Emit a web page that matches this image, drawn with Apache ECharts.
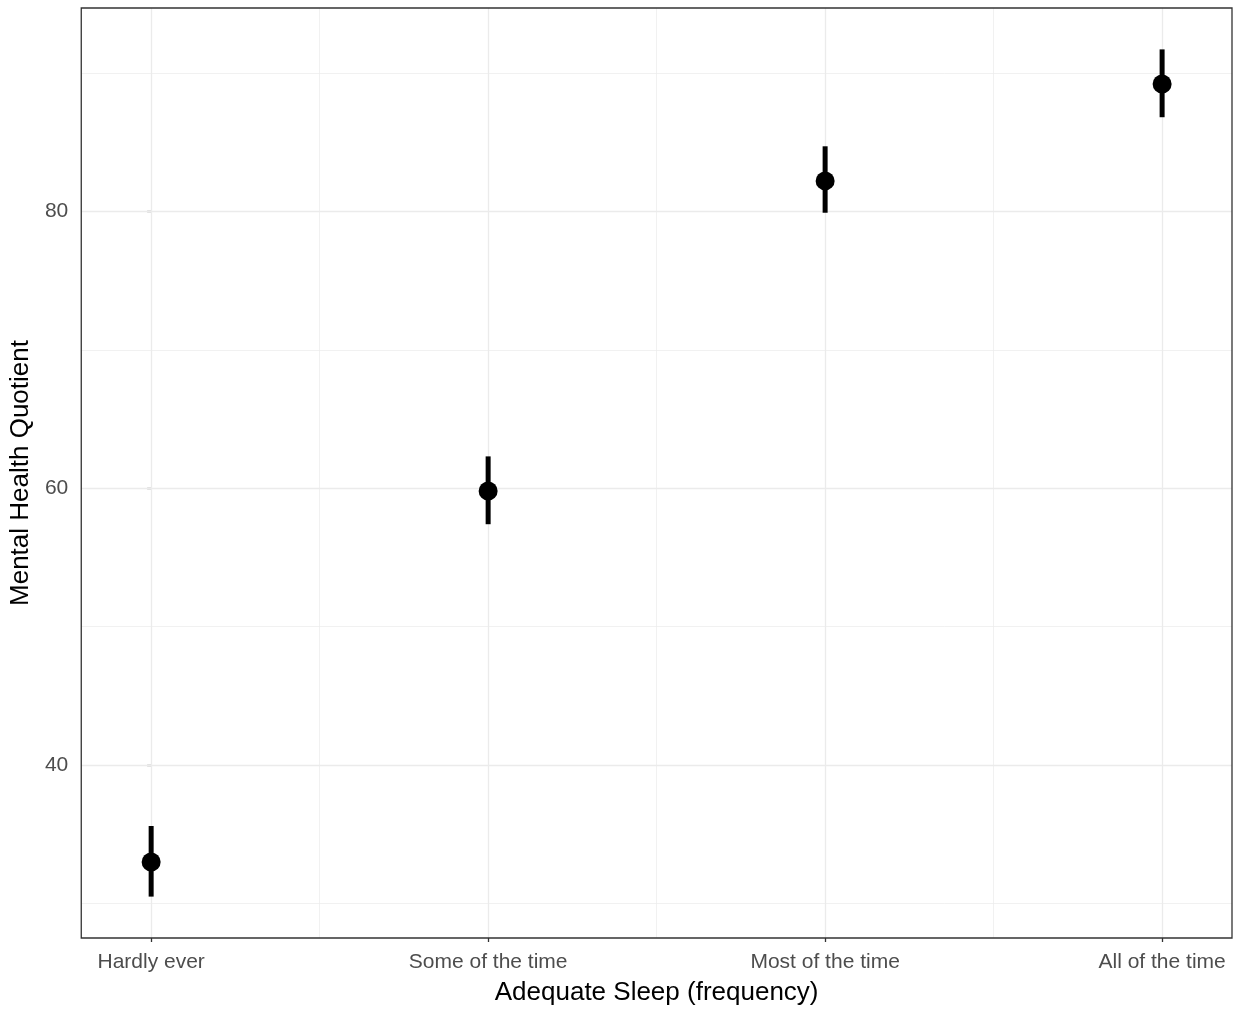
<!DOCTYPE html>
<html>
<head>
<meta charset="utf-8">
<script src="https://cdn.jsdelivr.net/npm/echarts@6/dist/echarts.min.js"></script>
<style>
html,body{margin:0;padding:0;background:#fff;}
#chart{width:1236px;height:1011px;}
</style>
</head>
<body>
<div id="chart"></div>
<script>
// ---- data ----
const categories = ['Hardly ever', 'Some of the time', 'Most of the time', 'All of the time'];
const means = [33.0, 59.8, 82.2, 89.2];
const lower = [30.5, 57.4, 79.9, 86.8];
const upper = [35.6, 62.3, 84.7, 91.7];
const yTicks = [40, 60, 80];
const yMinorGrid = [30, 50, 70, 90];
const xMinorGrid = [0.5, 1.5, 2.5];

const X_MIN = -0.2074, X_MAX = 3.2074;
const Y_MIN = 27.51, Y_MAX = 94.69;
const FONT = '"Liberation Sans", Arial, sans-serif';

const xIdx = categories.map((c, i) => i);

const GRID_COLOR = '#ebebeb';
const gridMarks = [];
xIdx.forEach(v => gridMarks.push({ xAxis: v, lineStyle: { width: 1.3 } }));
xMinorGrid.forEach(v => gridMarks.push({ xAxis: v, lineStyle: { width: 0.7 } }));
yTicks.forEach(v => gridMarks.push({ yAxis: v, lineStyle: { width: 1.3 } }));
yMinorGrid.forEach(v => gridMarks.push({ yAxis: v, lineStyle: { width: 0.7 } }));

const chart = echarts.init(document.getElementById('chart'), null, { renderer: 'canvas' });

chart.setOption({
  animation: false,
  backgroundColor: '#ffffff',
  tooltip: { show: false },
  grid: {
    left: 80, top: 8, width: 1152, height: 930,
    show: true, borderColor: '#333333', borderWidth: 1.3, backgroundColor: 'transparent', z: 10
  },
  xAxis: {
    type: 'value', min: X_MIN, max: X_MAX,
    axisLine: { show: false },
    splitLine: { show: false },
    axisTick: { show: true, customValues: xIdx, length: 4, lineStyle: { color: '#333333', width: 1.3 } },
    axisLabel: {
      customValues: xIdx, margin: 14,
      formatter: v => categories[Math.round(v)],
      color: '#4d4d4d', fontFamily: FONT, fontSize: 21
    },
    name: 'Adequate Sleep (frequency)', nameLocation: 'middle', nameGap: 42,
    nameTextStyle: { color: '#000000', fontFamily: FONT, fontSize: 26 }
  },
  yAxis: {
    type: 'value', min: Y_MIN, max: Y_MAX,
    axisLine: { show: false },
    splitLine: { show: false },
    axisTick: { show: true, customValues: yTicks, length: 4, lineStyle: { color: '#333333', width: 1.3 } },
    axisLabel: {
      customValues: yTicks, margin: 13,
      color: '#4d4d4d', fontFamily: FONT, fontSize: 21
    },
    name: 'Mental Health Quotient', nameLocation: 'middle', nameGap: 37,
    nameTextStyle: { color: '#000000', fontFamily: FONT, fontSize: 26 }
  },
  series: [
    {
      type: 'line', z: 1, silent: true,
      data: [],
      markLine: {
        silent: true, symbol: ['none', 'none'], animation: false,
        label: { show: false },
        lineStyle: { color: GRID_COLOR, type: 'solid', width: 1 },
        emphasis: { disabled: true },
        data: gridMarks
      }
    },
    {
      type: 'custom', z: 5, silent: true,
      data: xIdx.map(i => [i, lower[i], upper[i]]),
      renderItem: function (params, api) {
        const a = api.coord([api.value(0), api.value(1)]);
        const b = api.coord([api.value(0), api.value(2)]);
        return {
          type: 'line',
          shape: { x1: a[0], y1: a[1], x2: b[0], y2: b[1] },
          style: { stroke: '#000000', lineWidth: 5 }
        };
      },
      encode: { x: 0, y: [1, 2] }
    },
    {
      type: 'scatter', z: 6, silent: true,
      symbol: 'circle', symbolSize: 19,
      itemStyle: { color: '#000000', opacity: 1 },
      data: xIdx.map(i => [i, means[i]])
    }
  ]
});
</script>
</body>
</html>
